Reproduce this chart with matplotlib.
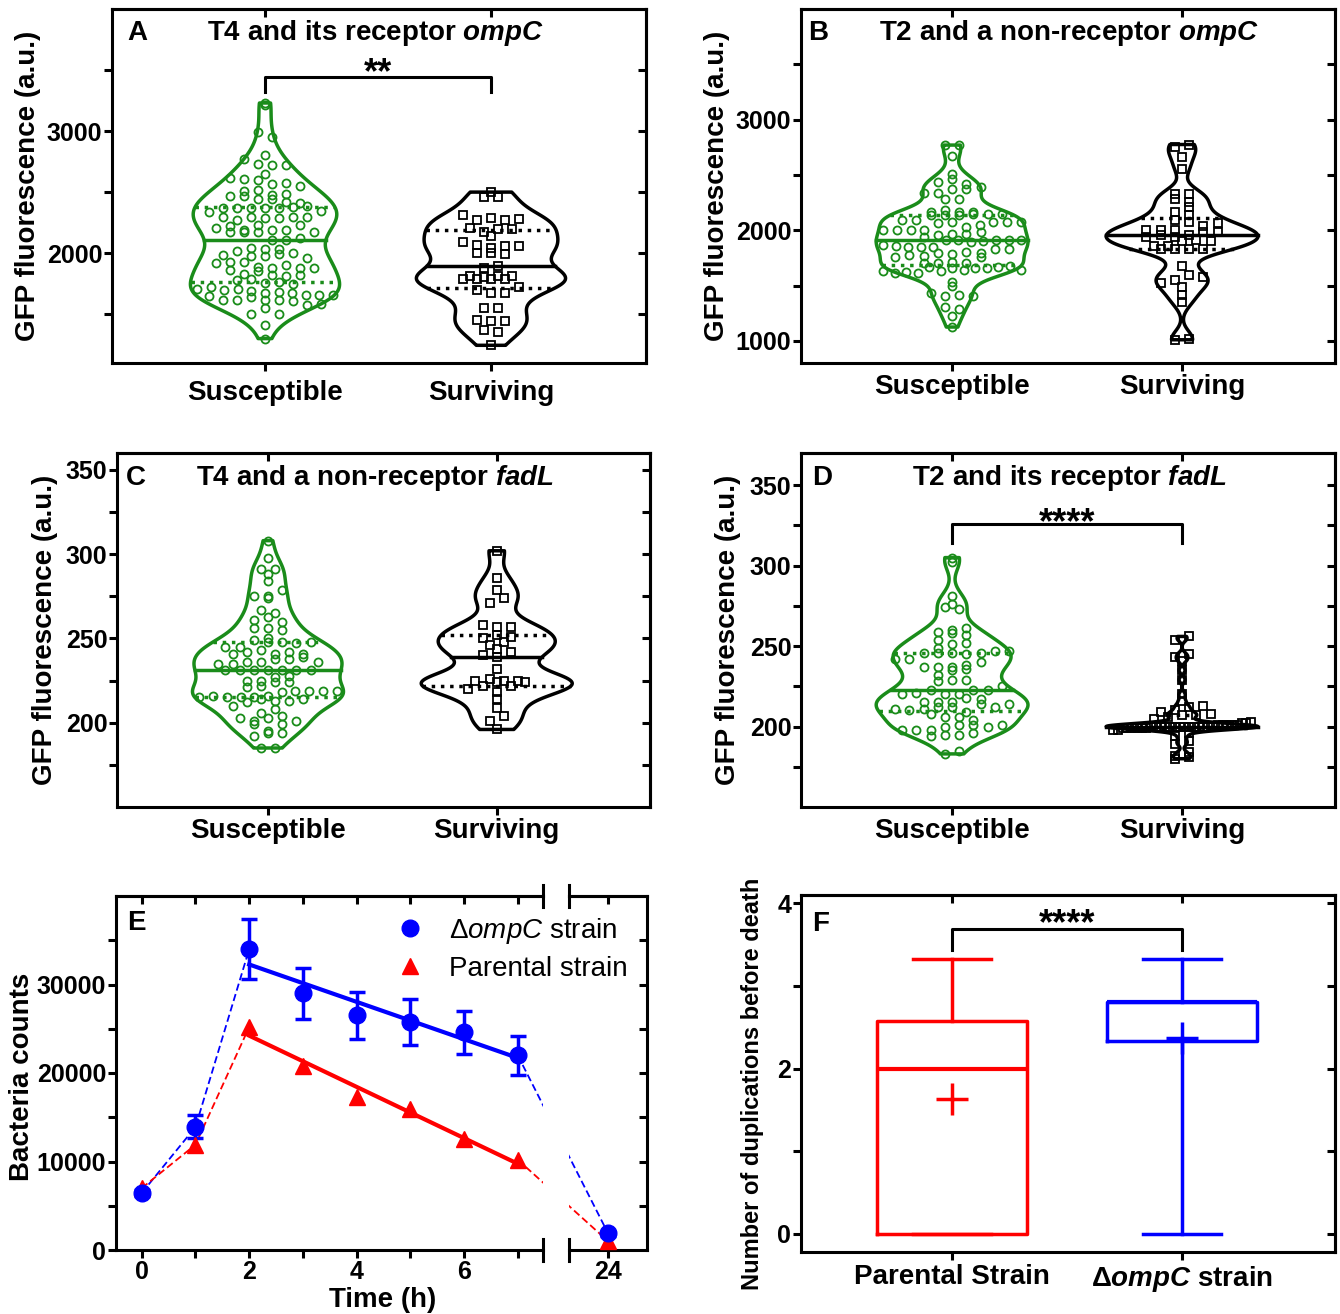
import numpy as np
import matplotlib
matplotlib.use("Agg")
import matplotlib.pyplot as plt
from matplotlib.lines import Line2D

plt.rcParams["font.family"] = ["Liberation Sans", "DejaVu Sans"]
plt.rcParams["font.weight"] = "bold"
plt.rcParams["axes.labelweight"] = "bold"
plt.rcParams["mathtext.fontset"] = "custom"
plt.rcParams["mathtext.rm"] = "Liberation Sans:normal"
plt.rcParams["mathtext.it"] = "Liberation Sans:italic:normal"
plt.rcParams["mathtext.bf"] = "Liberation Sans:bold"
plt.rcParams["mathtext.bfit"] = "Liberation Sans:italic:bold"

# ---------------- data ----------------
groups = ["Susceptible", "Surviving"]

# A: T4 and its receptor ompC
a_susceptible = [3230, 3210, 2990, 2950, 2800, 2770, 2730, 2725, 2720, 2645, 2615, 2605,
                 2600, 2570, 2575, 2550, 2510, 2515, 2470, 2470, 2480, 2485, 2440, 2440,
                 2420, 2410, 2340, 2370, 2370, 2370, 2370, 2370, 2380, 2390, 2345, 2300,
                 2275, 2300, 2290, 2290, 2300, 2295, 2205, 2220, 2190, 2230, 2190, 2190,
                 2230, 2170, 2175, 2172, 2173, 2110, 2105, 2125, 2040, 2030, 2035, 1985,
                 2015, 1975, 1975, 1995, 2005, 1920, 1960, 1930, 1930, 1890, 1875, 1905,
                 1875, 1860, 1875, 1830, 1850, 1820, 1815, 1820, 1780, 1785, 1755, 1760,
                 1710, 1720, 1700, 1710, 1690, 1675, 1750, 1685, 1645, 1670, 1615, 1660,
                 1615, 1640, 1655, 1615, 1655, 1615, 1605, 1575, 1585, 1505, 1550, 1500,
                 1410, 1300]
a_surviving = [2500, 2460, 2460, 2315, 2275, 2290, 2275, 2280, 2205, 2175, 2200, 2200,
               2140, 2090, 2065, 2045, 2055, 2055, 2000, 2000, 1995, 1880, 1895, 1815,
               1785, 1785, 1785, 1805, 1815, 1785, 1810, 1725, 1700, 1670, 1675, 1550,
               1550, 1450, 1445, 1445, 1370, 1350, 1245]

# B: T2 and a non-receptor ompC
b_susceptible = [1125, 1225, 1305, 1285, 1430, 1405, 1415, 1410, 1495, 1535,
                 1630, 1615, 1625, 1610, 1665, 1635, 1655, 1645, 1655, 1655, 1670, 1705,
                 1700, 1675, 1640, 1715, 1700, 1760, 1775, 1770, 1755, 1790, 1785, 1805,
                 1795, 1835, 1830, 1865, 1860, 1850, 1850, 1850, 1915, 1915, 1895, 1935,
                 1905, 1910, 1910, 1910, 1960, 1970, 1970, 1985, 2005, 2005, 2000, 2000,
                 2065, 2075, 2090, 2030, 2045, 2075, 2075, 2075, 2095, 2135, 2165, 2135,
                 2180, 2135, 2165, 2150, 2150, 2165, 2150, 2285, 2285, 2335, 2335, 2375,
                 2375, 2390, 2435, 2465, 2420, 2510, 2670, 2770, 2770]
b_surviving = [1010, 1015, 1350, 1415, 1490, 1520, 1550, 1595, 1580, 1680, 1835, 1835,
               1835, 1835, 1855, 1855, 1935, 1905, 1910, 1955, 1940, 1905, 1955, 1985,
               2000, 2000, 2000, 1985, 2075, 2040, 2090, 2065, 2165, 2135, 2210, 2330,
               2280, 2255, 2330, 2555, 2665, 2750, 2775]

# C: T4 and a non-receptor fadL
c_susceptible = [185, 185, 192, 194, 194, 199, 195, 203, 201, 203, 204, 201, 199, 206, 208,
                 210, 212, 214, 213, 215, 216, 213, 215, 214, 215, 215, 216, 218, 219, 219,
                 219, 219, 221, 222, 224, 225, 225, 224, 227, 228, 231, 231, 231, 231, 231,
                 231, 231, 235, 235, 236, 236, 238, 238, 239, 236, 241, 242, 243, 241, 242,
                 241, 245, 245, 249, 248, 248, 247, 248, 250, 256, 256, 255, 261, 263, 260,
                 267, 265, 275, 275, 274, 279, 284, 291, 288, 291, 298, 308]
c_surviving = [196, 201, 204, 209, 214, 218, 220, 222, 224, 222, 225, 226, 225, 225, 224,
               232, 239, 240, 244, 242, 246, 248, 250, 252, 251, 258, 257, 257, 271, 274,
               279, 286, 302]

# D: T2 and its receptor fadL
d_susceptible = [183, 185, 194, 195, 195, 198, 198, 198, 200, 201, 201, 196, 200, 201,
                 208, 206, 206, 204, 211, 210, 211, 212, 212, 209, 214, 215, 212, 215,
                 215, 214, 218, 217, 220, 221, 223, 220, 220, 223, 223, 225, 228, 229,
                 232, 229, 235, 237, 237, 237, 238, 236, 240, 242, 242, 246, 246, 246,
                 245, 246, 247, 247, 249, 251, 252, 254, 258, 257, 259, 260, 261, 274,
                 273, 276, 281, 305, 302]
d_surviving = [180, 181, 182, 184, 189, 191, 194, 196, 198, 198,
               199, 199, 199, 199, 199, 199,
               200, 200, 200, 200, 200, 200, 200, 200, 200, 200, 200, 200, 200, 200,
               201, 201, 201, 201, 201,
               202, 202, 203, 205, 206, 207, 207, 208, 209, 210, 212, 213, 216, 220,
               229, 235, 241, 243, 245, 254, 256]

# E: bacteria counts over time
hours = [0, 1, 2, 3, 4, 5, 6, 7, 24]
ompc_counts = [6450, 13900, 34000, 29000, 26500, 25800, 24600, 22000, 1900]
ompc_err = [300, 1300, 3400, 2900, 2700, 2600, 2400, 2200, 300]
parental_counts = [7000, 11900, 25200, 20800, 17300, 15900, 12500, 10200, 1000]

# F: number of duplications before death (box summary)
f_labels = ["Parental Strain", "Δ$\\mathbfit{ompC}$ strain"]
f_whislo = [0, 0]
f_q1 = [0, 2.33]
f_med = [2.0, 2.80]
f_q3 = [2.57, 2.80]
f_whishi = [3.32, 3.32]
f_mean = [1.63, 2.37]

# ---------------- layout ----------------
W, H = 1340, 1314
fig = plt.figure(figsize=(W / 100, H / 100), dpi=100)
LW = 2.2
GREEN = "#1a8c1a"


def rect(l, r, t, b):
    return [l / W, 1 - b / H, (r - l) / W, (b - t) / H]


def frame(ax, yticks, yminor, xticks, right=True, top=True):
    for s in ax.spines.values():
        s.set_linewidth(LW)
    ax.set_yticks(yticks)
    ax.set_yticks(yminor, minor=True)
    ax.set_xticks(xticks)
    ax.tick_params(which="both", direction="out", length=6, width=LW, labelsize=18, pad=1)
    if right:
        sy = ax.secondary_yaxis("right")
        sy.set_yticks(sorted(list(yticks) + list(yminor)))
        sy.tick_params(direction="in", length=6, width=LW, labelright=False)
        sy.spines["right"].set_linewidth(LW)
    if top:
        sx = ax.secondary_xaxis("top")
        sx.set_xticks(xticks)
        sx.tick_params(direction="in", length=6, width=LW, labeltop=False)
        sx.spines["top"].set_linewidth(LW)


def swarm_x(vals, pos, binh, dx=0.062, maxw=0.6):
    vals = np.asarray(vals, float)
    xs = np.full(vals.size, float(pos))
    keys = np.floor(vals / binh)
    for k in np.unique(keys):
        idx = np.flatnonzero(keys == k)
        n = idx.size
        step = dx if n < 2 else min(dx, maxw / (n - 1))
        xs[idx] = pos + (np.arange(n) - (n - 1) / 2) * step
    return xs


def violin_panel(ax, data, bws, binh):
    colors = [GREEN, "black"]
    markers = ["o", "s"]
    for i, vals in enumerate(data):
        c = colors[i]
        vp = ax.violinplot([vals], positions=[i], widths=0.66, showextrema=False,
                           bw_method=bws[i], points=400)
        body = vp["bodies"][0]
        body.set_alpha(1)
        body.set_facecolor("none")
        body.set_edgecolor(c)
        body.set_linewidth(2.5)
        verts = body.get_paths()[0].vertices
        side = verts[verts[:, 0] > i + 1e-9]
        side = side[np.argsort(side[:, 1])]
        for q, ls in zip(np.percentile(vals, [25, 50, 75]), [":", "-", ":"]):
            hw = np.interp(q, side[:, 1], side[:, 0]) - i
            ax.plot([i - hw, i + hw], [q, q], color=c, lw=2.5, ls=ls)
        ax.plot(swarm_x(vals, i, binh), vals, ls="none", marker=markers[i],
                mfc="none", mec=c, ms=5.8, mew=1.3)


def bracket(ax, y_top, y_leg, text, dy):
    ax.plot([0, 0, 1, 1], [y_leg, y_top, y_top, y_leg], color="black", lw=LW)
    ax.annotate(text, (0.5, y_top), xytext=(0, dy), textcoords="offset points",
                ha="center", va="baseline", fontsize=26)


def label_panel(ax, letter, lx, title, tx, ty):
    ax.text(lx, ty, letter, transform=ax.transAxes, ha="center", va="center", fontsize=20)
    ax.text(tx, ty, title, transform=ax.transAxes, ha="center", va="center", fontsize=20)


panels = [
    (rect(112, 646, 9, 363), a_susceptible, a_surviving, (1100, 4000), [2000, 3000],
     [1500, 2500, 3500], (0.3, 0.3), 75, "A", 0.047, "T4 and its receptor $\\mathbfit{ompC}$",
     0.494, 0.932, -0.133, (-0.677, 1.686), 6),
    (rect(801, 1335, 9, 363), b_susceptible, b_surviving, (800, 4000), [1000, 2000, 3000],
     [1500, 2500, 3500], (0.25, 0.2), 80, "B", 0.032, "T2 and a non-receptor $\\mathbfit{ompC}$",
     0.502, 0.932, -0.133, (-0.657, 1.665), 2),
    (rect(117, 650, 453, 807), c_susceptible, c_surviving, (150, 360), [200, 250, 300, 350],
     [175, 225, 275, 325], (0.25, 0.25), 5, "C", 0.036, "T4 and a non-receptor $\\mathbfit{fadL}$",
     0.485, 0.929, -0.111, (-0.66, 1.67), 2),
    (rect(801, 1335, 453, 807), d_susceptible, d_surviving, (150, 370), [200, 250, 300, 350],
     [175, 225, 275, 325], (0.25, 0.1), 5.5, "D", 0.039, "T2 and its receptor $\\mathbfit{fadL}$",
     0.503, 0.929, -0.112, (-0.657, 1.665), 2),
]

axes = []
for (r, s1, s2, ylim, yt, ym, bws, binh, let, lx, title, tx, ty, ylx, xlim, xpad) in panels:
    ax = fig.add_axes(r)
    violin_panel(ax, [s1, s2], bws, binh)
    ax.set_ylim(*ylim)
    ax.set_xlim(*xlim)
    frame(ax, yt, ym, [0, 1])
    ax.set_xticklabels(groups, fontsize=20)
    ax.tick_params(axis="x", pad=xpad)
    ax.set_ylabel("GFP fluorescence (a.u.)", fontsize=20)
    ax.yaxis.set_label_coords(ylx, 0.5)
    label_panel(ax, let, lx, title, tx, ty)
    axes.append(ax)

bracket(axes[0], 3447, 3316, "**", -5)
bracket(axes[3], 326, 314, "****", -7)

# ---------------- E: broken time axis ----------------
axL = fig.add_axes(rect(116, 543, 896, 1250))
axR = fig.add_axes(rect(569, 647, 896, 1250))
axR.patch.set_visible(False)
for ax in (axL, axR):
    ax.set_ylim(0, 40000)
axL.set_xlim(-0.48, 7.47)
axR.set_xlim(23.27, 24.73)

t = np.array(hours, float)
ompc = np.array(ompc_counts, float)
par = np.array(parental_counts, float)
err = np.array(ompc_err, float)
early = t <= 7
late = t > 7
fit = (t >= 2) & (t <= 7)
dash = (0, (4, 2))

for vals, c in ((ompc, "blue"), (par, "red")):
    axL.plot(t[:3], vals[:3], color=c, lw=1.3, ls=dash, zorder=2)
    k = np.polyfit(t[fit], vals[fit], 1)
    xx = t[fit][[0, -1]]
    axL.plot(xx, np.polyval(k, xx), color=c, lw=3, zorder=3)
    p7 = axL.transData.transform((t[early][-1], vals[early][-1]))
    p24 = axR.transData.transform((t[late][0], vals[late][0]))
    for ax in (axL, axR):
        (x0, y0), (x1, y1) = ax.transData.inverted().transform(np.array([p7, p24]))
        ax.plot([x0, x1], [y0, y1], color=c, lw=1.3, ls=dash, zorder=2)

for ax, m in ((axL, early), (axR, late)):
    ax.errorbar(t[m], ompc[m], yerr=err[m], fmt="o", color="blue", ms=12, capsize=6,
                elinewidth=2.5, capthick=2.5, zorder=4)
    ax.plot(t[m], par[m], ls="none", marker="^", color="red", ms=11, zorder=4)

frame(axL, [0, 10000, 20000, 30000], [5000, 15000, 25000, 35000], [0, 2, 4, 6], right=False, top=False)
axL.set_xticks([1, 3, 5, 7], minor=True)
axL.spines["right"].set_visible(False)
sx = axL.secondary_xaxis("top")
sx.set_xticks(range(0, 8))
sx.tick_params(direction="in", length=6, width=LW, labeltop=False)
sx.spines["top"].set_linewidth(LW)

for s in axR.spines.values():
    s.set_linewidth(LW)
axR.spines["left"].set_visible(False)
axR.set_xticks([24])
axR.set_yticks(range(5000, 40000, 5000))
axR.tick_params(axis="y", left=False, labelleft=False, right=True, labelright=False,
                direction="in", length=6, width=LW)
axR.tick_params(axis="x", direction="out", length=6, width=LW, labelsize=18, pad=1)
sx = axR.secondary_xaxis("top")
sx.set_xticks([24])
sx.tick_params(direction="in", length=6, width=LW, labeltop=False)
sx.spines["top"].set_linewidth(LW)

for ax, x in ((axL, 1), (axR, 0)):
    for y in (0, 1):
        ax.plot([x, x], [y - 0.03, y + 0.03], transform=ax.transAxes, color="black",
                lw=LW, clip_on=False)

axL.set_ylabel("Bacteria counts", fontsize=20)
axL.yaxis.set_label_coords(-0.19, 0.49)
axL.set_xlabel("Time (h)", fontsize=20)
axL.xaxis.set_label_coords(0.625, -0.105)
axL.text(0.047, 0.924, "E", transform=axL.transAxes, ha="center", va="center", fontsize=20)
handles = [Line2D([], [], marker="o", color="blue", ls="none", ms=12),
           Line2D([], [], marker="^", color="red", ls="none", ms=11)]
leg = axL.legend(handles, ["Δ$\\mathit{ompC}$ strain", "Parental strain"], loc="upper left",
                 bbox_to_anchor=(0.63, 0.975), frameon=False, handlelength=1.0,
                 handletextpad=0.9, labelspacing=0.35, borderaxespad=0,
                 prop=dict(weight="normal", size=20))
leg.set_zorder(10)

# ---------------- F: box plot ----------------
axF = fig.add_axes(rect(801, 1335, 895, 1252))
stats = [dict(whislo=f_whislo[i], q1=f_q1[i], med=f_med[i], q3=f_q3[i],
              whishi=f_whishi[i], mean=f_mean[i], label=f_labels[i]) for i in range(2)]
bp = axF.bxp(stats, positions=[0, 1], widths=0.65, capwidths=0.34, showmeans=True,
             showfliers=False, boxprops=dict(lw=2.5), whiskerprops=dict(lw=2.5),
             capprops=dict(lw=2.5), medianprops=dict(lw=3),
             meanprops=dict(marker="+", ms=23, mew=2.5))
for i, c in enumerate(["red", "blue"]):
    bp["boxes"][i].set_color(c)
    bp["medians"][i].set_color(c)
    bp["means"][i].set_markeredgecolor(c)
    bp["means"][i].set_markerfacecolor(c)
    for part in ("whiskers", "caps"):
        bp[part][2 * i].set_color(c)
        bp[part][2 * i + 1].set_color(c)
axF.set_xlim(-0.657, 1.665)
axF.set_ylim(-0.22, 4.1)
frame(axF, [0, 2, 4], [1, 3], [0, 1])
axF.set_xticklabels(f_labels, fontsize=20)
axF.tick_params(axis="x", pad=3)
axF.set_ylabel("Number of duplications before death", fontsize=17)
axF.yaxis.set_label_coords(-0.069, 0.47)
axF.text(0.036, 0.92, "F", transform=axF.transAxes, ha="center", va="center", fontsize=20)
bracket(axF, 3.69, 3.43, "****", -4)

fig.savefig("out.png", dpi=100)
